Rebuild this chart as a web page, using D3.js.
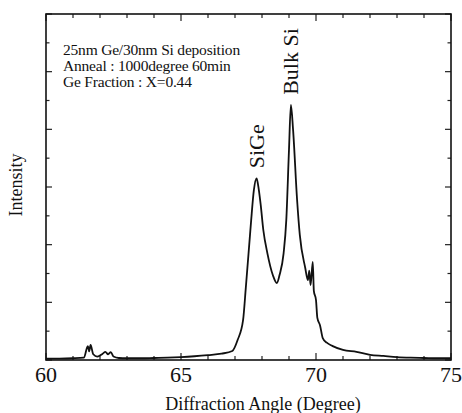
<!DOCTYPE html>
<html lang="en">
<meta charset="utf-8">
<head>
  <script src="https://d3js.org/d3.v7.min.js"></script>
  <style>
    body { margin: 0; background: #fff; }
    text { font-family: "Liberation Serif", "DejaVu Serif", serif; fill: #111; }
  </style>
</head>
<body>
  <div id="my_dataviz"></div>
  <script>
    // angle (degree) and intensity (arb. units)
    var angle = [60.0, 60.5, 61.0, 61.4, 61.55, 61.6, 61.65, 61.75, 61.9, 62.1, 62.2, 62.3, 62.4, 62.5, 62.7,
      63.0, 63.5, 64.0, 64.5, 65.0, 65.5, 66.0, 66.5, 66.9, 67.1, 67.3, 67.4, 67.55, 67.6, 67.7, 67.8,
      67.85, 67.95, 68.05, 68.2, 68.4, 68.55, 68.65, 68.8, 68.9, 69.0, 69.07, 69.15, 69.3, 69.4, 69.6,
      69.7, 69.75, 69.8, 69.88, 69.92, 70.0, 70.05, 70.15, 70.25, 70.4, 70.6, 71.0, 71.5, 72.0, 72.5,
      73.0, 73.5, 74.0, 74.5, 75.0];
    var intensity = [0.05, 0.05, 0.06, 0.08, 0.48, 0.3, 0.52, 0.2, 0.12, 0.22, 0.28, 0.2, 0.27, 0.12, 0.07,
      0.06, 0.06, 0.07, 0.08, 0.1, 0.13, 0.17, 0.22, 0.31, 0.7, 1.39, 2.5, 4.27, 4.86, 5.9, 6.3,
      6.1, 5.4, 4.5, 3.7, 2.95, 2.67, 2.95, 3.7, 4.86, 7.3, 8.85, 8.0, 5.55, 4.34, 3.2,
      2.77, 3.1, 2.6, 3.4, 2.4, 2.08, 1.46, 1.2, 0.76, 0.6, 0.49, 0.35, 0.28, 0.18, 0.14,
      0.1, 0.08, 0.07, 0.06, 0.06];

    var xTickLabels = [60, 65, 70, 75];
    var peakNames = ["SiGe", "Bulk Si"];
    var peakAngles = [67.8, 69.07];
    var peakHeights = [6.3, 8.85];
    var notes = ["25nm Ge/30nm Si deposition", "Anneal : 1000degree 60min", "Ge Fraction : X=0.44"];

    var W = 462, H = 413;
    var margin = { top: 14, right: 11, bottom: 53, left: 46 },
      width = W - margin.left - margin.right,
      height = H - margin.top - margin.bottom;

    var svg = d3.select("#my_dataviz")
      .append("svg")
      .attr("width", W)
      .attr("height", H)
      .append("g")
      .attr("transform", "translate(" + margin.left + "," + margin.top + ")");

    var x = d3.scaleLinear().domain([60, 75]).range([0, width]);
    var y = d3.scaleLinear().domain([0, 12]).range([height, 0]);

    // inward ticks on all four sides
    var xt = d3.range(60, 76, 1);
    var yt = d3.range(0, 13, 1);
    function xLen(d) { return d % 5 === 0 ? 7 : 4; }
    function yLen(d) { return d % 2 === 0 ? 6 : 3.5; }

    var ticks = svg.append("g").attr("stroke", "#222").attr("stroke-width", 1.2);
    ticks.selectAll(".xb").data(xt).enter().append("line")
      .attr("x1", d => x(d)).attr("x2", d => x(d))
      .attr("y1", height).attr("y2", d => height - xLen(d));
    ticks.selectAll(".xt").data(xt).enter().append("line")
      .attr("x1", d => x(d)).attr("x2", d => x(d))
      .attr("y1", 0).attr("y2", d => xLen(d));
    ticks.selectAll(".yl").data(yt).enter().append("line")
      .attr("y1", d => y(d)).attr("y2", d => y(d))
      .attr("x1", 0).attr("x2", d => yLen(d));
    ticks.selectAll(".yr").data(yt).enter().append("line")
      .attr("y1", d => y(d)).attr("y2", d => y(d))
      .attr("x1", width).attr("x2", d => width - yLen(d));

    // frame
    svg.append("rect")
      .attr("width", width).attr("height", height)
      .attr("fill", "none").attr("stroke", "#111").attr("stroke-width", 1.6);

    // x tick labels
    svg.selectAll(".xlab").data(xTickLabels).enter().append("text")
      .attr("x", d => x(d)).attr("y", height + 22)
      .attr("text-anchor", "middle").style("font-size", "22px")
      .text(d => d);

    // curve
    var pts = angle.map((a, i) => [a, intensity[i]]);
    svg.append("path")
      .datum(pts)
      .attr("fill", "none").attr("stroke", "#111").attr("stroke-width", 1.8)
      .attr("stroke-linejoin", "round")
      .attr("d", d3.line().curve(d3.curveMonotoneX).x(d => x(d[0])).y(d => y(d[1])));

    // peak labels (rotated)
    svg.selectAll(".peak").data(peakNames).enter().append("text")
      .attr("transform", (d, i) => "translate(" + (x(peakAngles[i]) + 7) + "," + (y(peakHeights[i]) - 10) + ") rotate(-90)")
      .style("font-size", "22px")
      .text(d => d);

    // sample notes
    svg.selectAll(".note").data(notes).enter().append("text")
      .attr("x", 17).attr("y", (d, i) => 41 + i * 16)
      .style("font-size", "15.5px")
      .style("letter-spacing", "-0.2px")
      .text(d => d);

    // axis titles
    svg.append("text")
      .attr("x", 217).attr("y", height + 50)
      .attr("text-anchor", "middle").style("font-size", "18px")
      .text("Diffraction Angle (Degree)");
    svg.append("text")
      .attr("transform", "translate(-24," + (185 - margin.top) + ") rotate(-90)")
      .attr("text-anchor", "middle").style("font-size", "18px")
      .text("Intensity");
  </script>
</body>
</html>
